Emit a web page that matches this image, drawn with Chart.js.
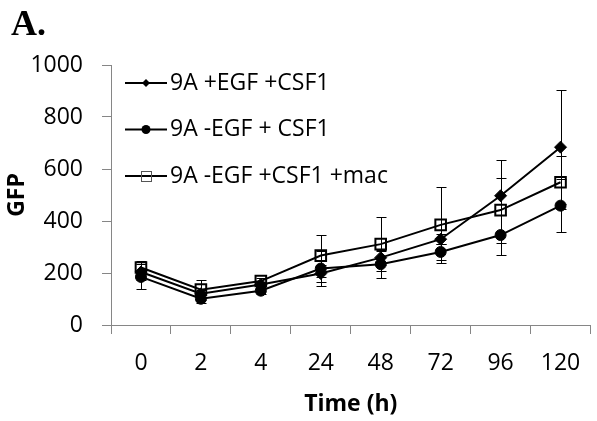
<!DOCTYPE html>
<html>
<head>
<meta charset="utf-8">
<script src="https://cdn.jsdelivr.net/npm/chart.js@4/dist/chart.umd.min.js"></script>
<style>
  html, body { margin: 0; padding: 0; background: #fff; overflow: hidden; }
  #wrap { width: 600px; height: 421px; position: relative; }
</style>
</head>
<body>
<div id="wrap"><canvas id="gfpChart"></canvas></div>
<script>
// Time points (h)
const timeLabels = ['0', '2', '4', '24', '48', '72', '96', '120'];

// GFP means per condition
const egfCsf1 = [204, 120, 156, 198, 259, 330, 497, 684];
const noEgfCsf1 = [185, 101, 132, 217, 234, 281, 346, 459];
const noEgfCsf1Mac = [221, 136, 169, 267, 311, 385, 442, 549];

// Error bar half-lengths
const egfCsf1Err = [30, 15, 10, 33, 30, 20, 138, 219];
const noEgfCsf1Err = [48, 15, 12, 68, 52, 32, 76, 103];
const noEgfCsf1MacErr = [25, 39, 10, 81, 105, 145, 125, 102];

// Y axis range
const gfpMin = 0;
const gfpMax = 1000;
const gfpStep = 200;

const axisGrey = '#868686';
const tickFont = { family: 'Open Sans', size: 23 };
const titleFont = { family: 'Open Sans', size: 23, weight: 'bold' };

// Vertical error bars with caps, drawn under the markers
const errorBars = {
  id: 'errorBars',
  beforeDatasetsDraw(chart) {
    const ctx = chart.ctx;
    const yScale = chart.scales.y;
    chart.data.datasets.forEach((ds, i) => {
      const meta = chart.getDatasetMeta(i);
      meta.data.forEach((pt, j) => {
        const err = ds.errors[j];
        const x = Math.round(pt.x) + 0.5;
        const top = Math.round(yScale.getPixelForValue(ds.data[j] + err)) + 0.5;
        const bottom = Math.round(yScale.getPixelForValue(ds.data[j] - err)) + 0.5;
        ctx.save();
        ctx.strokeStyle = '#000';
        ctx.lineWidth = 1;
        ctx.beginPath();
        ctx.moveTo(x, top);
        ctx.lineTo(x, bottom);
        ctx.moveTo(x - 5, top);
        ctx.lineTo(x + 5, top);
        ctx.moveTo(x - 5, bottom);
        ctx.lineTo(x + 5, bottom);
        ctx.stroke();
        ctx.restore();
      });
    });
  }
};

// Legend drawn inside the plot: short line with the series marker, then the label
const lineLegend = {
  id: 'lineLegend',
  afterDraw(chart, args, opts) {
    const ctx = chart.ctx;
    chart.data.datasets.forEach((ds, i) => {
      const y = opts.top + i * opts.rowGap;
      const cx = opts.x + opts.lineLength / 2;
      ctx.save();
      ctx.strokeStyle = '#000';
      ctx.lineWidth = 2;
      ctx.beginPath();
      ctx.moveTo(opts.x, y);
      ctx.lineTo(opts.x + opts.lineLength, y);
      ctx.stroke();

      ctx.fillStyle = '#000';
      if (ds.pointStyle === 'rectRot') {
        ctx.beginPath();
        ctx.moveTo(cx, y - 4);
        ctx.lineTo(cx + 4, y);
        ctx.lineTo(cx, y + 4);
        ctx.lineTo(cx - 4, y);
        ctx.closePath();
        ctx.fill();
      } else if (ds.pointStyle === 'circle') {
        ctx.beginPath();
        ctx.arc(cx, y, 4.5, 0, Math.PI * 2);
        ctx.fill();
      } else {
        ctx.strokeStyle = '#555';
        ctx.lineWidth = 1;
        ctx.strokeRect(Math.round(cx) - 5 + 0.5, Math.round(y) - 5 + 0.5, 10, 10);
      }

      ctx.font = opts.font;
      ctx.textAlign = 'left';
      ctx.textBaseline = 'middle';
      ctx.fillText(ds.label, opts.x + opts.lineLength + 3, y);
      ctx.restore();
    });
  }
};

// Panel letter in the top left corner
const panelLetter = {
  id: 'panelLetter',
  afterDraw(chart, args, opts) {
    const ctx = chart.ctx;
    ctx.save();
    ctx.font = 'bold 36px "Liberation Serif"';
    ctx.fillStyle = '#000';
    ctx.textBaseline = 'alphabetic';
    ctx.fillText(opts.text, 11, 35);
    ctx.restore();
  }
};

const ctx = document.getElementById('gfpChart').getContext('2d');

new Chart(ctx, {
  type: 'line',
  data: {
    labels: timeLabels,
    datasets: [
      {
        label: '9A +EGF +CSF1',
        data: egfCsf1,
        errors: egfCsf1Err,
        borderColor: '#000',
        borderWidth: 2,
        pointStyle: 'rectRot',
        pointRadius: 6,
        pointBackgroundColor: '#000',
        pointBorderColor: '#000',
        pointBorderWidth: 1,
        tension: 0
      },
      {
        label: '9A -EGF + CSF1',
        data: noEgfCsf1,
        errors: noEgfCsf1Err,
        borderColor: '#000',
        borderWidth: 2,
        pointStyle: 'circle',
        pointRadius: 5.5,
        pointBackgroundColor: '#000',
        pointBorderColor: '#000',
        pointBorderWidth: 1,
        tension: 0
      },
      {
        label: '9A -EGF +CSF1 +mac',
        data: noEgfCsf1Mac,
        errors: noEgfCsf1MacErr,
        borderColor: '#000',
        borderWidth: 2,
        pointStyle: 'rect',
        pointRadius: 7.5,
        pointBackgroundColor: 'rgba(0,0,0,0)',
        pointBorderColor: '#000',
        pointBorderWidth: 2,
        tension: 0
      }
    ]
  },
  options: {
    responsive: true,
    maintainAspectRatio: false,
    animation: false,
    layout: {
      padding: { top: 65, right: 1, bottom: 0, left: 0 }
    },
    plugins: {
      legend: { display: false },
      tooltip: { enabled: false },
      lineLegend: {
        x: 125,
        top: 83,
        rowGap: 46.5,
        lineLength: 42,
        font: '23px "Open Sans"'
      },
      panelLetter: { text: 'A.' }
    },
    scales: {
      x: {
        offset: true,
        grid: {
          offset: true,
          drawOnChartArea: false,
          tickLength: 9,
          color: axisGrey
        },
        border: { color: axisGrey },
        ticks: {
          color: '#000',
          font: tickFont,
          padding: 16,
          maxRotation: 0
        },
        title: {
          display: true,
          text: 'Time (h)',
          color: '#000',
          font: titleFont,
          padding: { top: 0, bottom: 3 }
        },
        afterFit(scale) {
          scale.height = 96;
        }
      },
      y: {
        min: gfpMin,
        max: gfpMax,
        grid: {
          drawOnChartArea: false,
          tickLength: 9,
          color: axisGrey
        },
        border: { color: axisGrey },
        ticks: {
          stepSize: gfpStep,
          color: '#000',
          font: tickFont,
          padding: 19,
          // plain numbers, no thousands separator
          callback: (value) => String(value)
        },
        title: {
          display: true,
          text: 'GFP',
          color: '#000',
          font: titleFont,
          padding: { top: 4, bottom: 0 }
        },
        afterFit(scale) {
          scale.width = 111;
        }
      }
    }
  },
  plugins: [errorBars, lineLegend, panelLetter]
});
</script>
</body>
</html>
